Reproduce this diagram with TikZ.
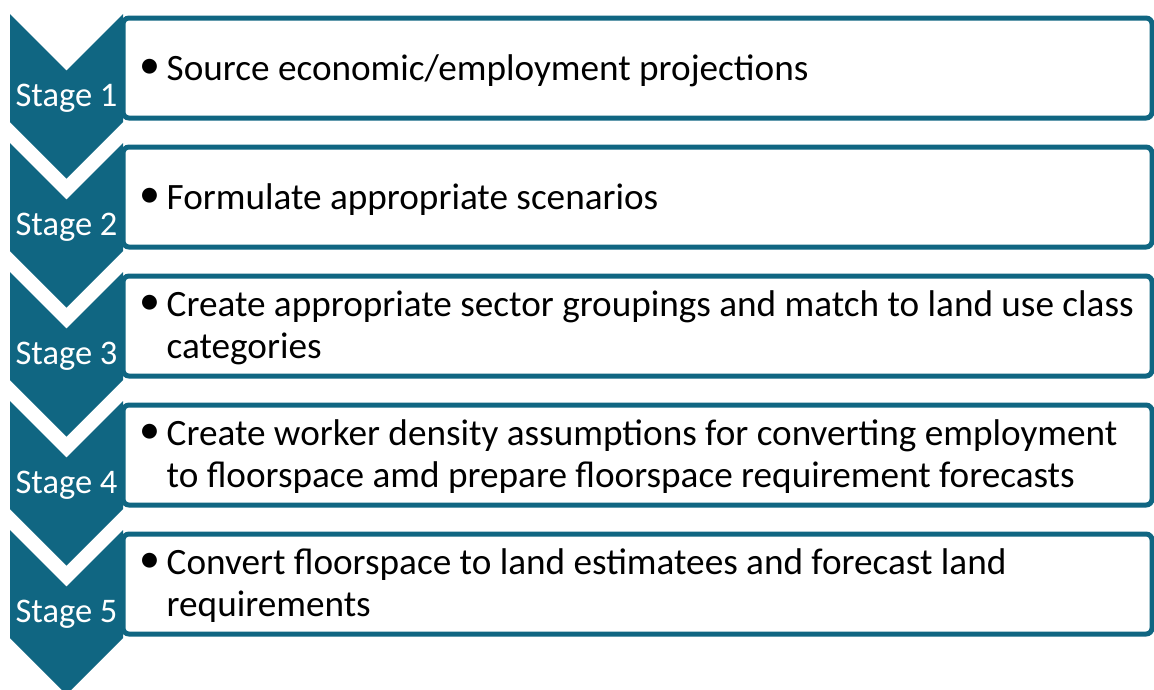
\documentclass[tikz,border=0pt]{standalone}
\usepackage{fontspec}
\setmainfont{Carlito}
\definecolor{stageteal}{RGB}{16,102,130}
\begin{document}
\begin{tikzpicture}[x=1pt,y=-1pt,
  stepbox/.style={draw=stageteal, line width=5pt, fill=white,
    rounded corners=6pt, minimum width=1029pt, minimum height=100pt,
    anchor=north west, inner sep=0pt, outer sep=0pt},
  chevron/.style={fill=stageteal, draw=none},
  stagelabel/.style={text=white, font=\fontsize{34.5}{41.5}\selectfont,
    anchor=base, inner sep=0pt},
  bullettext/.style={text=black, font=\fontsize{37.2}{41.5}\selectfont,
    anchor=base west, align=left, inner sep=0pt},
  bulletmark/.style={text=black, font=\fontsize{42}{42}\selectfont,
    anchor=center, inner sep=0pt}]
\useasboundingbox (0,0) rectangle (1154,689);

\foreach \i/\lines/\txt in {
  1/1/{Source economic/employment projections},
  2/1/{Formulate appropriate scenarios},
  3/2/{Create appropriate sector groupings and match to land use class\\categories},
  4/2/{Create worker density assumptions for converting employment\\to floorspace amd prepare floorspace requirement forecasts},
  5/2/{Convert floorspace to land estimatees and forecast land\\requirements}}{
  \pgfmathsetmacro{\top}{14+129*(\i-1)}
  % text box behind the chevron
  \node[stepbox] (box\i) at (123,\top+4) {};
  % chevron with a notch on top and a point below
  \fill[chevron] (10,\top) -- (66.5,\top+56.5) -- (123,\top) -- (123,\top+108)
    -- (66.5,\top+164.5) -- (10,\top+108) -- cycle;
  \node[stagelabel] (stage\i) at (66.5,\top+92) {Stage \i};
  % the base of a node is that of its last line
  \ifnum\lines=1
    \node[bullettext] (text\i) at (166.5,\top+66) {\txt};
    \node[bulletmark] (dot\i) at (149.5,\top+54.4) {•};
  \else
    \node[bullettext] (text\i) at (166.5,\top+86) {\txt};
    \node[bulletmark] (dot\i) at (149.5,\top+32.9) {•};
  \fi
}
\end{tikzpicture}
\end{document}
